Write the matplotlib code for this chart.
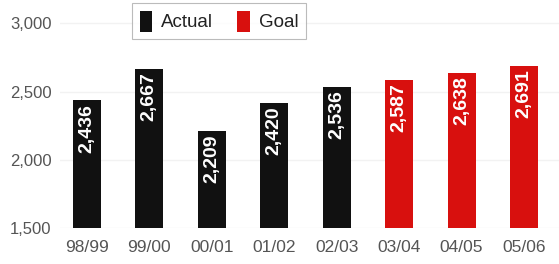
# -*- coding: utf-8 -*-
import numpy as np
import matplotlib.pyplot as plt
from matplotlib.patches import Patch

# 数据
Years = ['98/99', '99/00', '00/01', '01/02', '02/03', '03/04', '04/05', '05/06']
Values = [2436, 2667, 2209, 2420, 2536, 2587, 2638, 2691]
Kind = ['Actual', 'Actual', 'Actual', 'Actual', 'Actual', 'Goal', 'Goal', 'Goal']
YTicks = [1500, 2000, 2500, 3000]

ColorMap = {'Actual': '#111111', 'Goal': '#d8100e'}
plt.rcParams['font.family'] = ['Liberation Sans', 'DejaVu Sans']

fig = plt.figure(figsize=(5.59, 2.64), dpi=100)
ax = fig.add_axes([60 / 559, 36 / 264, 499 / 559, 228 / 264])

xIdx = np.arange(len(Years))
colors = [ColorMap[k] for k in Kind]
ax.bar(xIdx, np.array(Values) - 1500, bottom=1500, width=0.45, color=colors, zorder=2)

# 柱内数值
for x, v in zip(xIdx, Values):
    ax.text(x, v - 25, '{:,}'.format(v), rotation=90, ha='center', va='top',
            color='white', fontsize=14, fontweight='bold', zorder=3)

ax.set_xlim(-0.43, 7.56)
ax.set_ylim(1500, 3172)
ax.set_yticks(YTicks)
ax.set_yticklabels(['{:,}'.format(t) for t in YTicks])
ax.set_xticks(xIdx)
ax.set_xticklabels(Years)
ax.tick_params(axis='y', length=0, pad=6, labelsize=12, labelcolor='#555555')
ax.tick_params(axis='x', length=0, pad=9, labelsize=12.5, labelcolor='#555555')
for s in ax.spines.values():
    s.set_visible(False)
ax.yaxis.grid(True, color='#f2f2f2', linewidth=1, zorder=0)

# 图例
handles = [Patch(facecolor=ColorMap['Actual']), Patch(facecolor=ColorMap['Goal'])]
leg = fig.legend(handles, ['Actual', 'Goal'], loc='upper left',
                 bbox_to_anchor=(132 / 559, 1 - 3 / 264), ncol=2,
                 fontsize=13.5, frameon=True, fancybox=False,
                 handlelength=0.65, handleheight=1.35, handletextpad=0.5,
                 columnspacing=1.3, borderpad=0.4, borderaxespad=0)
leg.get_frame().set_edgecolor('#aaaaaa')
leg.get_frame().set_linewidth(0.8)
for t in leg.get_texts():
    t.set_color('#222222')

plt.savefig('out.png', dpi=100)
plt.close()
